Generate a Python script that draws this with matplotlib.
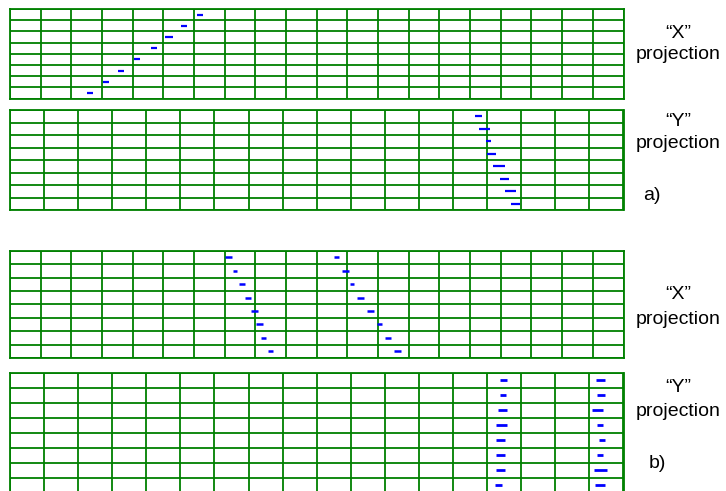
import matplotlib
matplotlib.use("Agg")
import matplotlib.pyplot as plt

plt.rcParams['font.family'] = ['Liberation Sans', 'DejaVu Sans']

W, H = 726, 491
N_ROWS = 8
COLS_X = 20   # strips in the "X" projection chamber
COLS_Y = 18   # strips in the "Y" projection chamber

# Hit positions per layer (top layer first), in strip units, and hit spread
a_x_pos = [6.19, 5.67, 5.18, 4.69, 4.14, 3.62, 3.13, 2.61]
a_x_wid = [0.22, 0.20, 0.24, 0.19, 0.22, 0.22, 0.22, 0.22]

a_y_pos = [13.74, 13.92, 14.04, 14.12, 14.35, 14.51, 14.68, 14.83]
a_y_wid = [0.19, 0.31, 0.16, 0.26, 0.33, 0.26, 0.33, 0.26]

b_x1_pos = [7.13, 7.34, 7.57, 7.76, 7.96, 8.13, 8.27, 8.49]
b_x1_wid = [0.21, 0.14, 0.20, 0.20, 0.22, 0.23, 0.15, 0.15]
b_x2_pos = [10.65, 10.94, 11.15, 11.44, 11.76, 12.05, 12.32, 12.63]
b_x2_wid = [0.15, 0.23, 0.15, 0.23, 0.23, 0.16, 0.20, 0.24]

b_y1_pos = [14.48, 14.46, 14.45, 14.41, 14.38, 14.38, 14.38, 14.34]
b_y1_wid = [0.20, 0.17, 0.26, 0.33, 0.26, 0.26, 0.26, 0.20]
b_y2_pos = [17.32, 17.33, 17.24, 17.31, 17.37, 17.31, 17.33, 17.30]
b_y2_wid = [0.26, 0.24, 0.33, 0.20, 0.17, 0.20, 0.37, 0.30]

GREEN = '#008000'
BLUE = '#0000ff'

fig = plt.figure(figsize=(W / 100, H / 100), dpi=100)


def make_axes(left, right, top, bottom):
    return fig.add_axes([left / W, 1 - bottom / H, (right - left) / W, (bottom - top) / H])


def chamber(ax, ncols):
    ax.set_xlim(0, ncols)
    ax.set_ylim(0, N_ROWS)
    ax.set_xticks(range(ncols + 1))
    ax.set_yticks(range(N_ROWS + 1))
    ax.tick_params(length=0, labelbottom=False, labelleft=False)
    ax.grid(True, color=GREEN, linewidth=1.3)
    for sp in ax.spines.values():
        sp.set_color(GREEN)
        sp.set_linewidth(1.3)
    ax.set_axisbelow(True)


def hits(ax, pos, wid, lw):
    rows = [N_ROWS - i - 0.5 for i in range(len(pos))]
    xmin = [p - w / 2 for p, w in zip(pos, wid)]
    xmax = [p + w / 2 for p, w in zip(pos, wid)]
    ax.hlines(rows, xmin, xmax, colors=BLUE, linewidth=lw, capstyle='butt', zorder=3)


ax1 = make_axes(10, 623.5, 9, 98.7)
chamber(ax1, COLS_X)
hits(ax1, a_x_pos, a_x_wid, 1.6)

ax2 = make_axes(10, 623.5, 110, 210)
chamber(ax2, COLS_Y)
hits(ax2, a_y_pos, a_y_wid, 1.6)

ax3 = make_axes(10, 623.5, 250.7, 358)
chamber(ax3, COLS_X)
hits(ax3, b_x1_pos, b_x1_wid, 1.8)
hits(ax3, b_x2_pos, b_x2_wid, 1.8)

ax4 = make_axes(10, 623.5, 372.7, 492.7)
chamber(ax4, COLS_Y)
hits(ax4, b_y1_pos, b_y1_wid, 2.0)
hits(ax4, b_y2_pos, b_y2_wid, 2.0)


def label(x, y, s, ha='center'):
    fig.text(x / W, 1 - y / H, s, ha=ha, va='baseline', fontsize=14, color='black')


label(678, 38, '\u201cX\u201d')
label(678, 59, 'projection')
label(678, 126, '\u201cY\u201d')
label(678, 148, 'projection')
label(643, 200, 'a)', ha='left')

label(678, 299, '\u201cX\u201d')
label(678, 324, 'projection')
label(678, 392, '\u201cY\u201d')
label(678, 416, 'projection')
label(649, 468, 'b)', ha='left')

fig.savefig('out.png', dpi=100)
